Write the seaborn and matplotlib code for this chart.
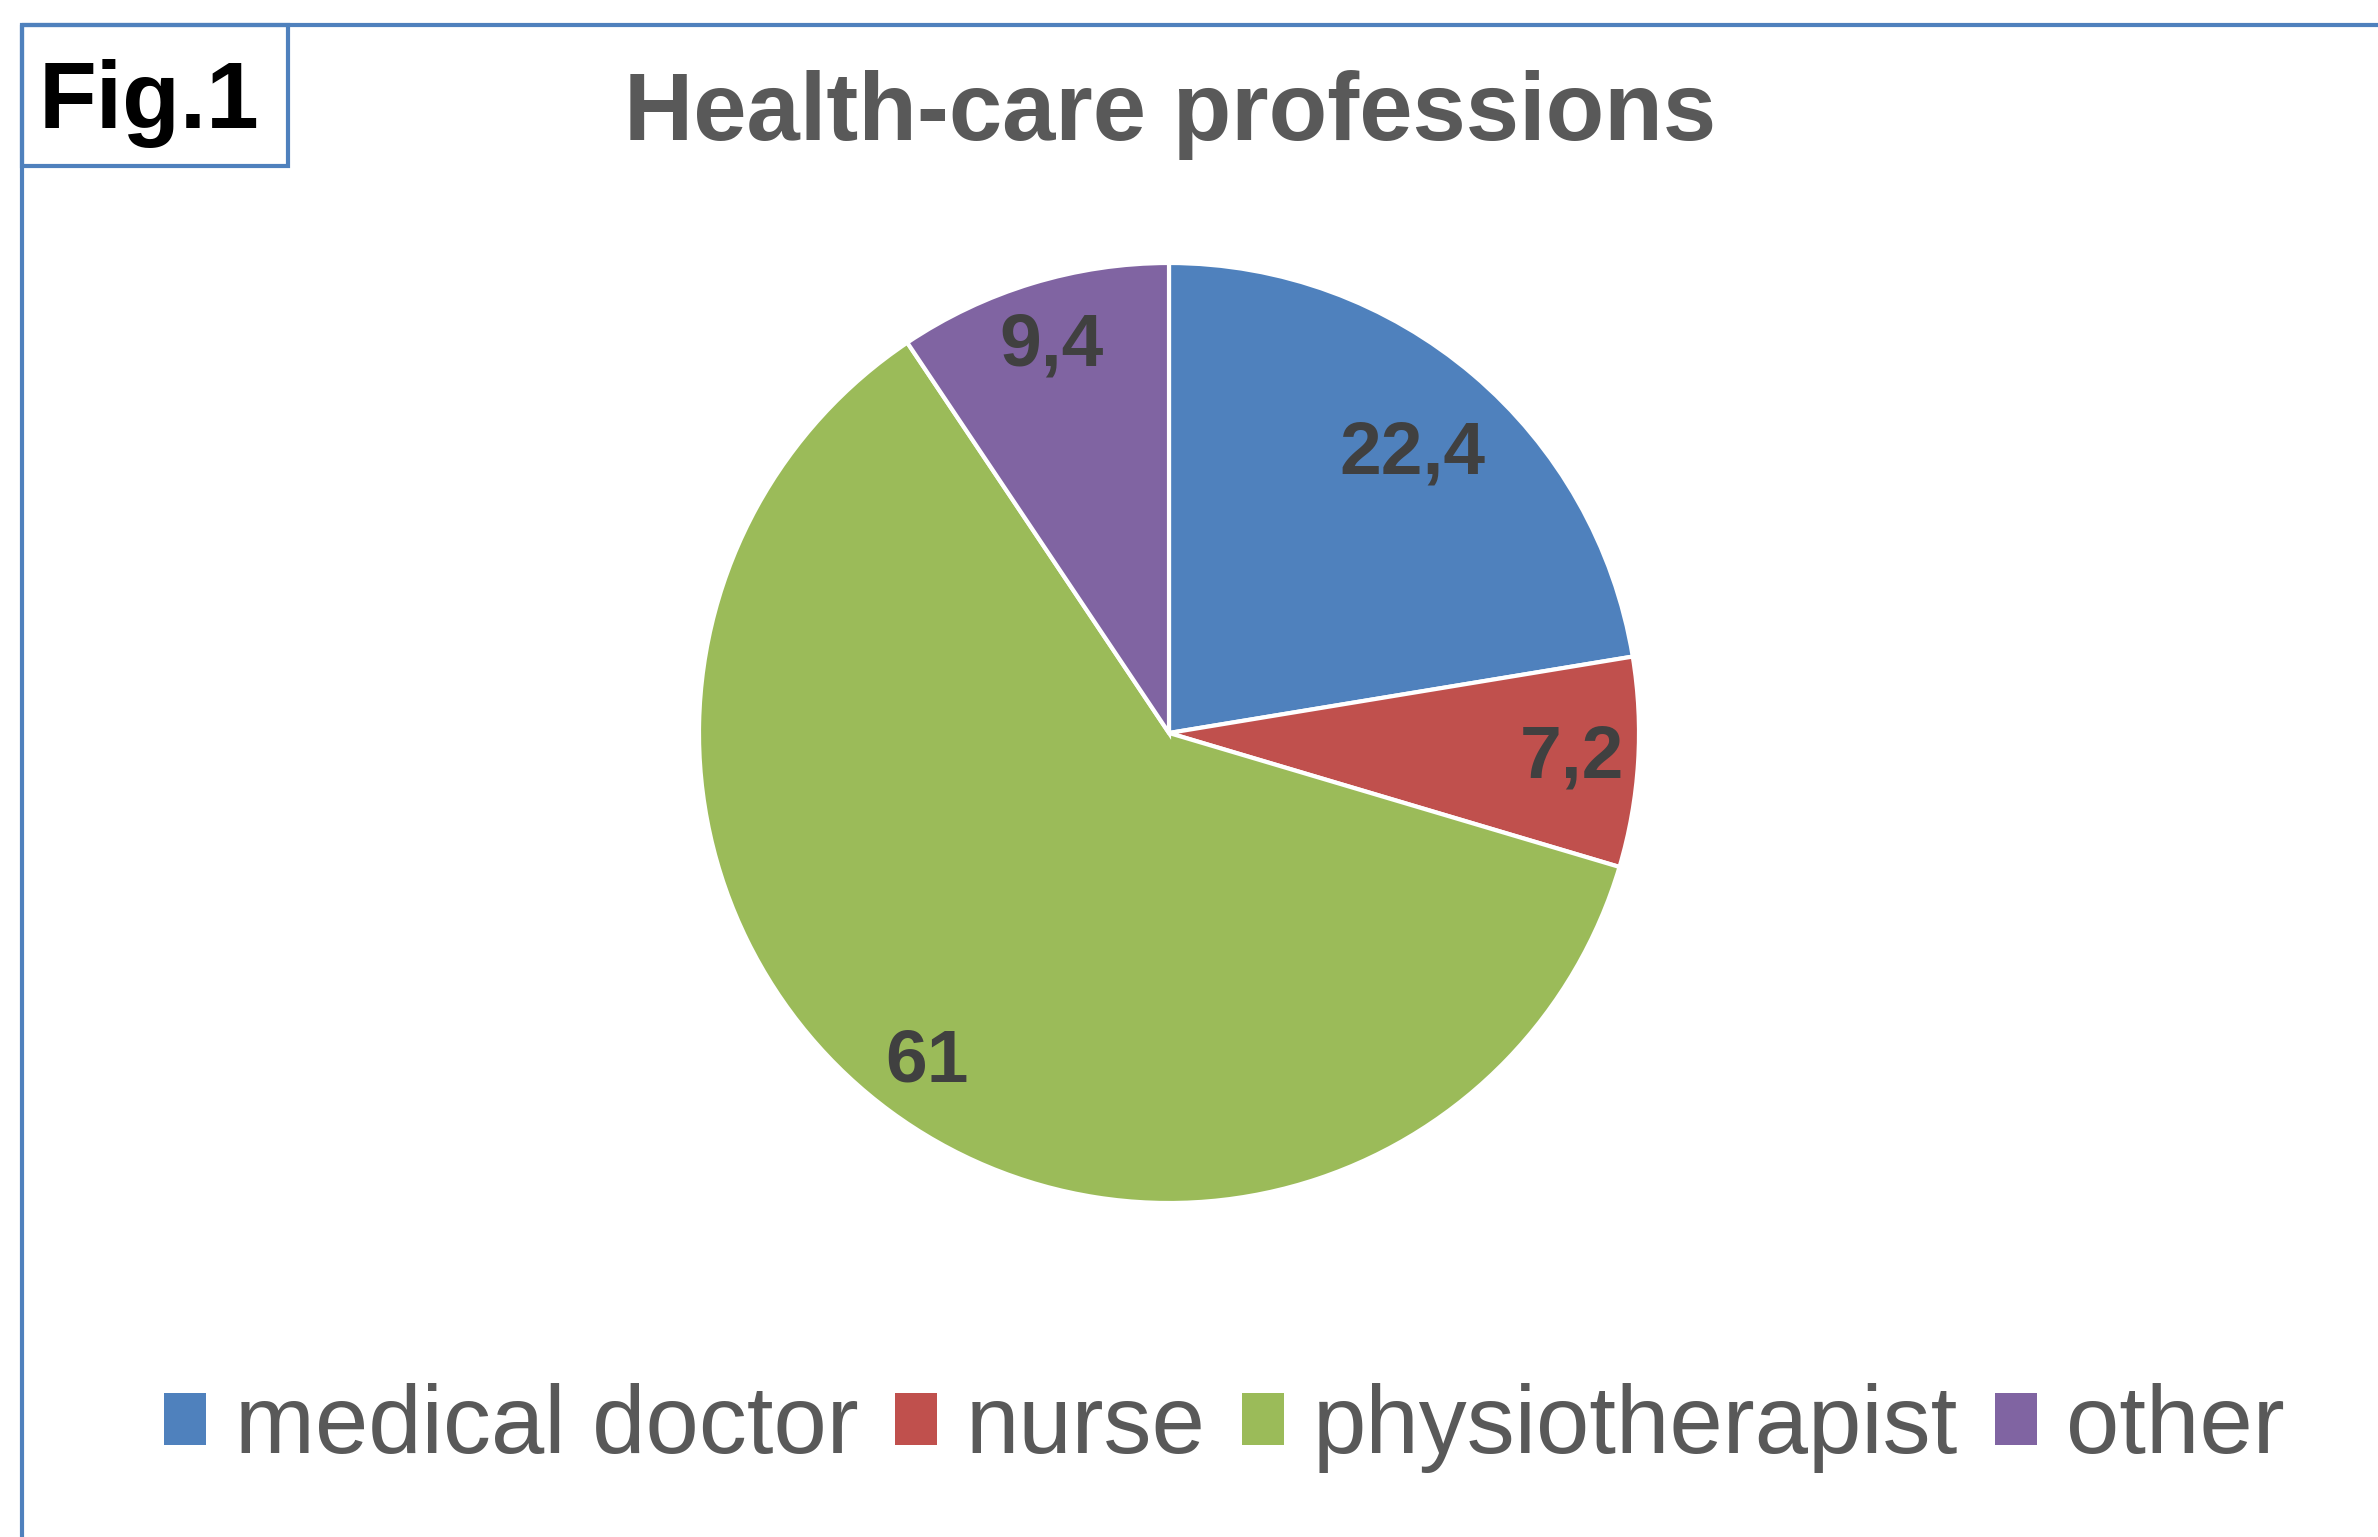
import matplotlib
matplotlib.use("Agg")
import numpy as np
import matplotlib.pyplot as plt
from matplotlib.lines import Line2D
from matplotlib.patches import Rectangle
import seaborn as sns

professions = ["medical doctor", "nurse", "physiotherapist", "other"]
shares = [22.4, 7.2, 61, 9.4]
share_labels = ["22,4", "7,2", "61", "9,4"]
colors = ["#4F81BD", "#C0504D", "#9BBB59", "#8064A2"]

sns.set_theme(style="white")
plt.rcParams["font.family"] = ["Liberation Sans", "DejaVu Sans"]

W, H = 2378, 1537
fig = plt.figure(figsize=(W / 100, H / 100), dpi=100)
fig.patch.set_facecolor("white")

# pie: centre (1169, 733) px, radius 470 px
cx, cy, r = 1169, 733, 470
ax = fig.add_axes([(cx - r) / W, (H - cy - r) / H, 2 * r / W, 2 * r / H])
wedges, _ = ax.pie(
    shares,
    colors=sns.color_palette(colors),
    startangle=90,
    counterclock=False,
    wedgeprops=dict(edgecolor="white", linewidth=3),
)
ax.set_xlim(-1, 1)
ax.set_ylim(-1, 1)

# value labels, placed along each wedge's middle angle
dists = [0.80, 0.86, 0.87, 0.86]
for w, lab, d in zip(wedges, share_labels, dists):
    ang = np.deg2rad((w.theta1 + w.theta2) / 2)
    va = "center_baseline" if lab == "22,4" else "center"
    ax.text(d * np.cos(ang), d * np.sin(ang), lab, ha="center", va=va,
            fontsize=54, fontweight="bold", color="#404040")

# frame lines
blue = "#4F81BD"
fig.add_artist(Line2D([22 / W, 1], [1 - 25 / H, 1 - 25 / H], color=blue, lw=3))
fig.add_artist(Line2D([22 / W, 22 / W], [1 - 25 / H, 0], color=blue, lw=3))
fig.add_artist(Rectangle((22 / W, 1 - 166 / H), (288 - 22) / W, (166 - 25) / H,
                         fill=False, edgecolor=blue, lw=3,
                         transform=fig.transFigure))

fig.text(149 / W, 1 - 128 / H, "Fig.1", ha="center", va="baseline",
         fontsize=68, fontweight="bold", color="black")
fig.text(1170 / W, 1 - 140 / H, "Health-care professions", ha="center",
         va="baseline", fontsize=69, fontweight="bold", color="#595959")

leg = fig.legend(wedges, professions, loc="center", ncol=4,
                 bbox_to_anchor=(1224 / W, 1 - 1428 / H), frameon=False,
                 fontsize=69, handlelength=0.44, handleheight=0.46,
                 handletextpad=0.3, columnspacing=0.38, borderpad=0)
for t in leg.get_texts():
    t.set_color("#595959")
for h in leg.legend_handles:
    h.set_edgecolor("none")

fig.savefig("out.png", dpi=100, facecolor="white")
